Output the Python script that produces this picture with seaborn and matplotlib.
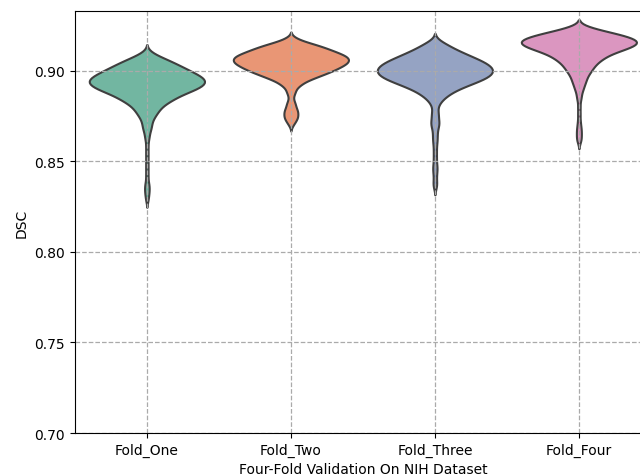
import numpy as np
import pandas as pd
import matplotlib
matplotlib.use('Agg')
import matplotlib.pyplot as plt
import seaborn as sns

# DSC scores per fold, stored as (score, number of cases)
one_vals = [0.910, 0.908, 0.906, 0.904, 0.902, 0.900, 0.898, 0.896, 0.894, 0.892,
            0.890, 0.888, 0.886, 0.884, 0.882, 0.880, 0.878, 0.876, 0.874, 0.872,
            0.870, 0.868, 0.866, 0.864, 0.862, 0.858, 0.854, 0.850, 0.846, 0.842,
            0.838, 0.836, 0.834, 0.832, 0.829]
one_cnts = [2, 5, 9, 12, 15, 18, 21, 24, 25, 24,
            21, 17, 13, 11, 8, 6, 5, 4, 3, 2,
            2, 2, 1, 1, 1, 1, 1, 1, 1, 1,
            1, 1, 1, 1, 1]

two_vals = [0.918, 0.916, 0.914, 0.912, 0.910, 0.908, 0.906, 0.904, 0.902, 0.900,
            0.898, 0.896, 0.894, 0.892, 0.890, 0.888, 0.886, 0.884, 0.882, 0.880,
            0.878, 0.876, 0.874, 0.872, 0.870]
two_cnts = [2, 6, 12, 16, 20, 24, 25, 24, 21, 18,
            14, 10, 6, 4, 2, 2, 1, 1, 2, 2,
            3, 3, 3, 2, 1]

three_vals = [0.916, 0.914, 0.912, 0.910, 0.908, 0.906, 0.904, 0.902, 0.900, 0.898,
              0.896, 0.894, 0.892, 0.890, 0.888, 0.886, 0.884, 0.882, 0.880, 0.878,
              0.876, 0.874, 0.872, 0.870, 0.868, 0.866, 0.864, 0.862, 0.860, 0.857,
              0.854, 0.851, 0.848, 0.846, 0.844, 0.841, 0.838, 0.836]
three_cnts = [3, 6, 8, 12, 15, 19, 22, 24, 25, 24,
              22, 18, 14, 10, 7, 5, 3, 2, 1, 1,
              2, 1, 2, 2, 1, 1, 1, 1, 1, 1,
              1, 1, 1, 1, 1, 1, 1, 1]

four_vals = [0.924, 0.922, 0.920, 0.918, 0.916, 0.914, 0.912, 0.910, 0.908, 0.906,
             0.904, 0.902, 0.900, 0.898, 0.896, 0.894, 0.892, 0.890, 0.888, 0.886,
             0.884, 0.880, 0.876, 0.872, 0.869, 0.867, 0.865, 0.863, 0.861]
four_cnts = [4, 10, 17, 22, 25, 23, 19, 14, 11, 9,
             7, 6, 5, 4, 3, 3, 2, 2, 1, 1,
             1, 1, 1, 1, 1, 1, 1, 1, 1]

folds = ['Fold_One', 'Fold_Two', 'Fold_Three', 'Fold_Four']
values = [one_vals, two_vals, three_vals, four_vals]
counts = [one_cnts, two_cnts, three_cnts, four_cnts]

frames = []
for name, v, c in zip(folds, values, counts):
    frames.append(pd.DataFrame({'Fold': name, 'DSC': np.repeat(v, c)}))
df = pd.concat(frames, ignore_index=True)

fig = plt.figure(figsize=(6.4, 4.77), dpi=100)
ax = fig.add_axes([0.117, 0.090, 0.9, 0.885])

sns.violinplot(x='Fold', y='DSC', data=df, hue='Fold', palette='Set2', legend=False,
               inner=None, density_norm='width', width=0.8, bw_adjust=0.5,
               linewidth=1.5, linecolor='#3f3f3f', ax=ax)

ax.grid(True, linestyle='--', color='#aaaaaa', linewidth=0.9)
ax.set_ylim(0.70, 0.933)
ax.set_xlim(-0.5, 3.5)
ax.set_yticks([0.70, 0.75, 0.80, 0.85, 0.90])
ax.set_xlabel('Four-Fold Validation On NIH Dataset')
ax.set_ylabel('DSC')

fig.savefig('out.png', dpi=100)
